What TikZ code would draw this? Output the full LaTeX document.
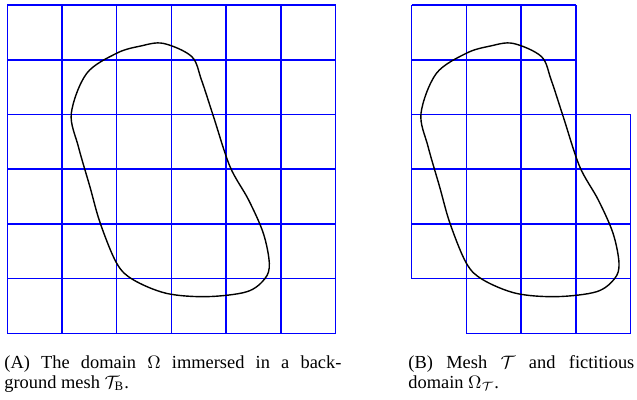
\documentclass[tikz,border=0pt]{standalone}
\usepackage{fontspec}
\setmainfont{Liberation Serif}

\definecolor{meshblue}{RGB}{0,0,255}
\tikzset{
  meshline/.style = {draw = meshblue, line width = .75pt, step = 1},
  domainline/.style = {draw = black, line width = .7pt},
  subcap/.style = {inner sep = 0pt, align = justify,
                   font = \fontsize{9.2}{10.35}\selectfont},
}

\begin{document}
\begin{tikzpicture}[x = 27.35pt, y = 27.35pt]
      \useasboundingbox (-0.1335,-1.2194) rectangle (11.512,6.093);
      % background mesh
      \draw [meshline] (0,0) grid (6,6);
      % active mesh
      \begin{scope}[shift = {(7.393,0)}]
        \draw [meshline] (0,1) grid (3,6);
        \draw [meshline] (0,1) grid (4,4);
        \draw [meshline] (1,0) grid (4,4);
      \end{scope}
      % the domain, same curve in both (one cell to the left in B)
      \foreach \dx in {0, 6.393} {
        \draw [domainline, shift = {(\dx,0)}] plot [smooth cycle, tension = .55]
          coordinates {(2.85,5.30) (3.37,5.06) (3.55,4.63) (3.77,3.96)
                       (4.07,3.05) (4.41,2.44) (4.68,1.83) (4.79,1.28)
                       (4.71,1.00) (4.38,0.76) (3.65,0.67) (2.91,0.73)
                       (2.30,0.98) (2.00,1.28) (1.70,2.01) (1.51,2.68)
                       (1.30,3.41) (1.17,4.02) (1.45,4.75) (2.00,5.12)
                       (2.43,5.25)};
      }
      \node [subcap, text width = 168.5pt, anchor = base west] (capA)
        at (-0.06,-0.635)
        {(A) The domain $\Omega$ immersed in a back-\linebreak
         ground mesh $\mathcal{T}_{\mathrm{B}}$.};
      \node [subcap, text width = 113pt, anchor = base west] (capB)
        at (7.325,-0.635)
        {(B) Mesh $\mathcal{T}$ and fictitious\linebreak
         domain $\Omega_{\mathcal{T}}$.};
    \end{tikzpicture}
\end{document}
